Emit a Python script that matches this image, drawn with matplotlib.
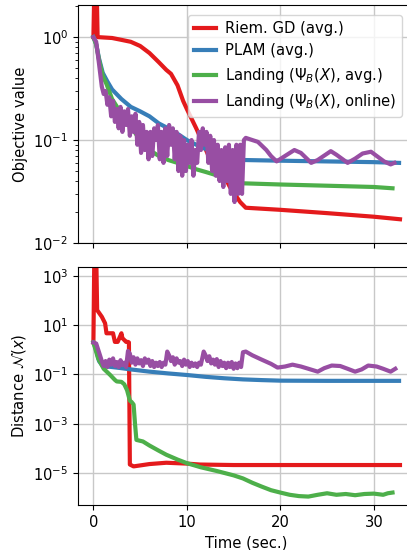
import matplotlib
matplotlib.use("Agg")
import matplotlib.pyplot as plt

# colours (Set1)
c_red = "#e41a1c"
c_blue = "#377eb8"
c_green = "#4daf4a"
c_purple = "#984ea3"

labels = ["Riem. GD (avg.)", "PLAM (avg.)",
          r"Landing ($\Psi_B(X)$, avg.)", r"Landing ($\Psi_B(X)$, online)"]

# ---- objective value (top) ----
gd_t = [0, 0.1, 0.35, 0.45, 2, 3, 4, 5, 6, 7, 7.8, 8.3, 9, 9.6, 10, 11, 11.4, 12.3,
        13, 13.5, 14.6, 15.7, 16.3, 20, 25, 30, 32.8]
gd_obj = [1.0, 3.0, 3.0, 1.0, 0.98, 0.94, 0.9, 0.82, 0.7, 0.57, 0.48, 0.44, 0.34, 0.24,
          0.2, 0.13, 0.108, 0.071, 0.062, 0.055, 0.035, 0.025, 0.022, 0.021, 0.0195,
          0.018, 0.017]

plam_t = [0, 0.3, 0.6, 1.0, 1.5, 2, 3, 4, 5, 6, 7, 8, 9, 10, 11, 12, 13, 14, 15, 16,
          20, 25, 30, 32.7]
plam_obj = [1.0, 0.85, 0.62, 0.45, 0.37, 0.31, 0.25, 0.21, 0.19, 0.17, 0.145, 0.13,
            0.115, 0.1, 0.09, 0.082, 0.076, 0.07, 0.067, 0.064, 0.063, 0.062, 0.061, 0.06]

land_t = [0, 0.3, 0.6, 1.0, 1.4, 2, 3, 4, 5, 6, 7, 8, 9, 10, 11, 12, 13, 14, 15, 16,
          20, 25, 30, 32]
land_obj = [1.0, 0.85, 0.6, 0.42, 0.35, 0.25, 0.18, 0.135, 0.1, 0.08, 0.07, 0.064,
            0.06, 0.056, 0.052, 0.049, 0.046, 0.043, 0.04, 0.038, 0.037, 0.036, 0.035,
            0.034]

onl_t = [0, 0.3, 0.6, 0.9, 1.1, 1.3, 1.5, 1.7, 1.9, 2.1, 2.3, 2.5, 2.7, 2.9, 3.1, 3.3,
         3.5, 3.7, 3.9, 4.1, 4.3, 4.5, 4.7, 4.9, 5.1, 5.3, 5.5, 5.7, 5.9, 6.1, 6.3, 6.5,
         6.7, 6.9, 7.1, 7.3, 7.5, 7.7, 7.9, 8.1, 8.3, 8.5, 8.7, 8.9, 9.1, 9.3, 9.5, 9.7,
         9.9, 10.1, 10.3, 10.5, 10.7, 10.9, 11.1, 11.3, 11.5, 11.7, 11.9, 12.1, 12.3,
         12.5, 12.7, 12.9, 13.1, 13.3, 13.5, 13.7, 13.9, 14.1, 14.3, 14.5, 14.7, 14.9,
         15.1, 15.3, 15.5, 15.7, 15.9, 16.1, 16.3, 17, 17.6, 18.5, 19, 19.6, 20.5, 21.5,
         22.2, 23.3, 24, 25.4, 26, 27.2, 28, 28.8, 29.7, 30.5, 31.1, 31.8, 32.2]
onl_obj = [1.0, 0.9, 0.55, 0.33, 0.28, 0.3, 0.22, 0.26, 0.17, 0.24, 0.15, 0.2, 0.13,
           0.21, 0.12, 0.19, 0.14, 0.2, 0.11, 0.17, 0.12, 0.18, 0.09, 0.15, 0.075, 0.14,
           0.08, 0.12, 0.065, 0.12, 0.07, 0.13, 0.1, 0.14, 0.065, 0.12, 0.06, 0.13, 0.07,
           0.14, 0.09, 0.13, 0.065, 0.12, 0.05, 0.11, 0.045, 0.1, 0.05, 0.09, 0.06, 0.1,
           0.045, 0.08, 0.06, 0.12, 0.08, 0.13, 0.09, 0.12, 0.06, 0.11, 0.05, 0.1, 0.045,
           0.09, 0.04, 0.08, 0.035, 0.085, 0.04, 0.09, 0.03, 0.08, 0.025, 0.09, 0.03,
           0.09, 0.03, 0.1, 0.105, 0.1, 0.096, 0.08, 0.07, 0.062, 0.07, 0.08, 0.075,
           0.06, 0.064, 0.078, 0.072, 0.06, 0.066, 0.074, 0.077, 0.068, 0.062, 0.058,
           0.06]

# ---- distance (bottom) ----
gd_dist_t = [0, 0.1, 0.3, 0.4, 0.9, 1.25, 1.4, 2.1, 2.3, 2.6, 3.0, 3.1, 3.5, 3.7, 3.8,
             3.9, 4.3, 6, 7.8, 10, 11.4, 15, 20, 25, 30, 32.8]
gd_dist = [2.0, 8000, 8000, 41, 22, 12, 4.7, 4.7, 2.1, 2.1, 4.7, 3.0, 2.1, 2.1, 2.0,
           2.2e-5, 1.85e-5, 2.3e-5, 2.6e-5, 2.4e-5, 2.2e-5, 2.1e-5, 2.1e-5, 2.1e-5,
           2.1e-5, 2.1e-5]

plam_dist_t = [0, 0.3, 0.6, 1.0, 2, 3, 4, 6, 8, 10, 12, 14, 16, 18, 20, 25, 32.7]
plam_dist = [2.0, 1.0, 0.35, 0.22, 0.2, 0.18, 0.16, 0.13, 0.11, 0.095, 0.08, 0.07,
             0.063, 0.059, 0.056, 0.055, 0.055]

land_dist_t = [0, 0.5, 1.1, 1.8, 2.3, 2.5, 3.0, 3.3, 3.6, 3.9, 4.1, 4.3, 4.45, 4.6, 5.3,
               6, 7, 7.8, 9, 10, 11.5, 13.2, 15, 16, 17, 18, 19, 20, 21, 22, 23, 24,
               25, 26, 27, 28, 29, 30, 31, 31.5, 32]
land_dist = [2.0, 0.45, 0.17, 0.095, 0.06, 0.052, 0.05, 0.04, 0.023, 0.0087, 0.0075,
             0.006, 0.001, 2.2e-4, 1.9e-4, 1.3e-4, 8e-5, 5.5e-5, 3.5e-5, 2.5e-5, 1.7e-5,
             1.2e-5, 8e-6, 6e-6, 4e-6, 2.8e-6, 2e-6, 1.6e-6, 1.3e-6, 1.15e-6, 1.1e-6,
             1.3e-6, 1.5e-6, 1.3e-6, 1.4e-6, 1.25e-6, 1.4e-6, 1.45e-6, 1.3e-6, 1.5e-6,
             1.6e-6]

onl_dist_t = [0, 0.3, 0.6, 0.9, 1.1, 1.3, 1.5, 1.7, 1.9, 2.1, 2.3, 2.5, 2.7, 2.9, 3.1,
              3.3, 3.5, 3.7, 3.9, 4.1, 4.3, 4.5, 4.7, 4.9, 5.1, 5.3, 5.5, 5.7, 5.9, 6.1,
              6.3, 6.5, 6.7, 6.9, 7.1, 7.3, 7.5, 7.7, 7.9, 8.1, 8.3, 8.5, 8.7, 8.9, 9.1,
              9.3, 9.5, 9.7, 9.9, 10.1, 10.3, 10.5, 10.7, 10.9, 11.1, 11.3, 11.5, 11.8,
              12.0, 12.2, 12.4, 12.6, 12.8, 13.0, 13.2, 13.4, 13.6, 13.8, 14.0, 14.2,
              14.4, 14.6, 14.8, 15.0, 15.2, 15.4, 15.6, 15.8, 16.0, 16.3, 17, 18, 19,
              19.7, 20.5, 21.3, 22.2, 23, 24, 24.7, 25.5, 26.4, 27.2, 28, 28.7, 29.4,
              30.3, 31, 31.8, 32.3]
onl_dist = [2.0, 1.8, 0.8, 0.35, 0.22, 0.35, 0.2, 0.4, 0.25, 0.45, 0.22, 0.32, 0.2,
            0.38, 0.24, 0.3, 0.2, 0.9, 0.7, 0.3, 0.5, 0.25, 0.45, 0.28, 0.38, 0.22, 0.45,
            0.3, 0.4, 0.22, 0.35, 0.2, 0.3, 0.22, 0.32, 0.2, 0.3, 0.25, 0.85, 0.6, 0.35,
            0.5, 0.25, 0.45, 0.3, 0.35, 0.22, 0.4, 0.25, 0.35, 0.2, 0.3, 0.22, 0.28, 0.2,
            0.3, 0.25, 0.85, 0.6, 0.35, 0.55, 0.28, 0.4, 0.25, 0.42, 0.2, 0.35, 0.22, 0.3,
            0.18, 0.3, 0.2, 0.32, 0.17, 0.28, 0.18, 0.3, 0.2, 0.8, 0.85, 0.6, 0.4, 0.27,
            0.19, 0.21, 0.25, 0.21, 0.17, 0.13, 0.18, 0.23, 0.22, 0.17, 0.13, 0.16, 0.23,
            0.21, 0.17, 0.13, 0.17]

fs = 10.6
fig = plt.figure(figsize=(4.07, 5.5), dpi=100)
ax1 = fig.add_axes([0.1916, 0.5582, 0.8256, 0.4327])
ax2 = fig.add_axes([0.1916, 0.0818, 0.8256, 0.4327], sharex=ax1)

lw = 3
ax1.plot(gd_t, gd_obj, color=c_red, lw=lw, label=labels[0])
ax1.plot(plam_t, plam_obj, color=c_blue, lw=lw, label=labels[1])
ax1.plot(land_t, land_obj, color=c_green, lw=lw, label=labels[2])
ax1.plot(onl_t, onl_obj, color=c_purple, lw=lw, label=labels[3])

ax2.plot(gd_dist_t, gd_dist, color=c_red, lw=lw)
ax2.plot(plam_dist_t, plam_dist, color=c_blue, lw=lw)
ax2.plot(land_dist_t, land_dist, color=c_green, lw=lw)
ax2.plot(onl_dist_t, onl_dist, color=c_purple, lw=lw)

for ax in (ax1, ax2):
    ax.set_yscale("log")
    ax.grid(True, which="major", color="#c8c8c8", lw=1)
    ax.set_axisbelow(True)
    ax.spines["right"].set_visible(False)
    ax.tick_params(labelsize=fs)

ax1.set_xlim(-1.65, 34.3)
ax1.set_xticks([0, 10, 20, 30])
ax1.set_ylim(1e-2, 2.05)
ax1.tick_params(labelbottom=False)
ax1.set_ylabel("Objective value", fontsize=fs)

ax2.set_ylim(5e-7, 2.3e3)
ax2.set_yticks([1e-5, 1e-3, 1e-1, 1e1, 1e3])
ax2.set_ylabel(r"Distance $\mathcal{N}(x)$", fontsize=fs)
ax2.set_xlabel("Time (sec.)", fontsize=fs)

ax1.legend(loc="upper right", bbox_to_anchor=(0.972, 0.97), fontsize=fs,
           handlelength=1.5, handletextpad=0.6, borderaxespad=0.2,
           labelspacing=0.5)

fig.savefig("out.png", dpi=100)
